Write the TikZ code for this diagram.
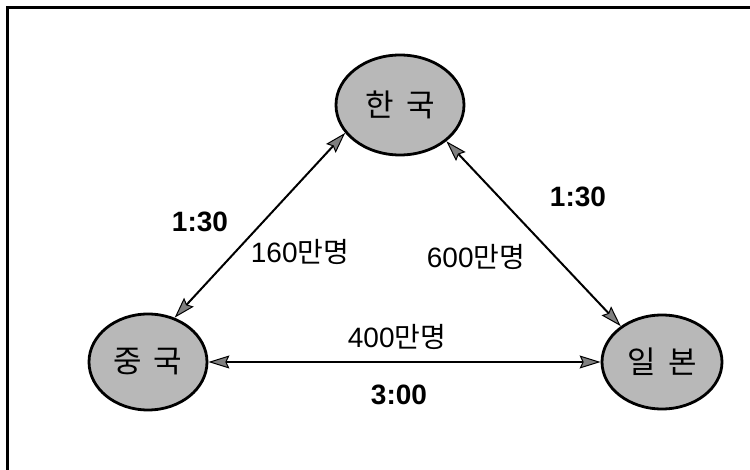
\documentclass[tikz,border=0pt]{standalone}
\usepackage{fontspec}
\setmainfont{Liberation Sans}
\newfontfamily\kr{Noto Sans CJK KR}
\usetikzlibrary{shapes.geometric,arrows.meta}
\begin{document}
\begin{tikzpicture}[x=1pt,y=-1pt,
  country/.style={ellipse,draw=black,line width=2.8pt,fill=black!28,inner sep=0pt,
    font=\kr\fontsize{31}{31}\selectfont},
  tipgray/.tip={Stealth[length=21pt,width=13pt,inset=3pt,fill=black!50,line width=1pt]},
  link/.style={line width=2pt,tipgray-tipgray},
  num/.style={font=\fontsize{28}{28}\selectfont,inner sep=0pt},
  tm/.style={font=\bfseries\fontsize{28}{28}\selectfont,inner sep=0pt}]
\useasboundingbox (0,0) rectangle (750,470);
\draw[line width=3pt] (750,8) -- (7,8) -- (7,470);
\node[country,minimum width=128pt,minimum height=100pt] (ko) at (400,105) {한\hspace{12pt}국};
\node[country,minimum width=118pt,minimum height=96pt] (cn) at (148,362) {중\hspace{12pt}국};
\node[country,minimum width=120pt,minimum height=94pt] (jp) at (662,362) {일\hspace{12pt}본};
\draw[link] (ko.207) -- (cn.59);
\draw[link] (ko.322) -- (jp.139);
\draw[link] (cn.east) -- (jp.west);
\node[tm] (t1) at (200,222) {1:30};
\node[tm] (t2) at (578,197) {1:30};
\node[tm] (t3) at (399,395) {3:00};
\node[num] (n1) at (300,252) {160{\kr 만명}};
\node[num] (n2) at (476,257) {600{\kr 만명}};
\node[num] (n3) at (397,337) {400{\kr 만명}};
\end{tikzpicture}
\end{document}
